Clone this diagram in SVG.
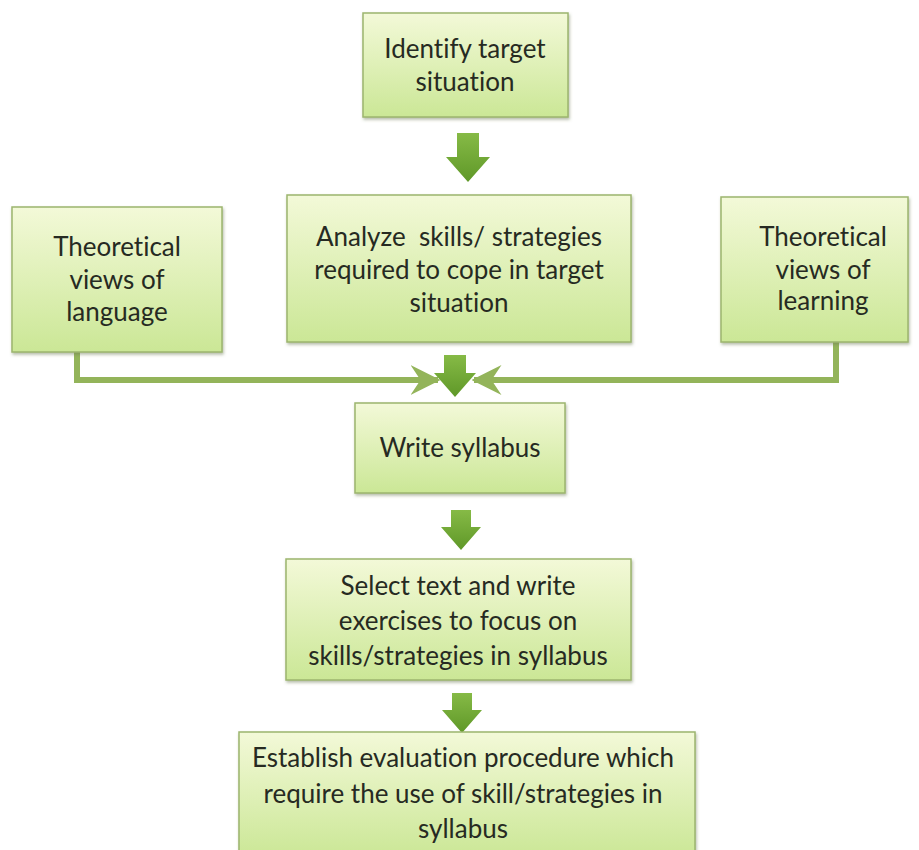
<svg xmlns="http://www.w3.org/2000/svg" width="919" height="850" viewBox="0 0 919 850">
<style>
.box{fill:url(#bg);stroke:#9cb56e;stroke-width:1.5;filter:url(#sh)}
.t{font-family:Lato,"Open Sans","Liberation Sans",sans-serif;font-size:26px;fill:#262a22;text-anchor:middle;font-variant-ligatures:none;white-space:pre}
.con{fill:none;stroke:#93b45a;stroke-width:6}
.blk{fill:url(#ag)}
</style>
<defs>
<linearGradient id="bg" x1="0" y1="0" x2="0" y2="1">
<stop offset="0" stop-color="#f3f9d8"/>
<stop offset="1" stop-color="#cbe796"/>
</linearGradient>
<linearGradient id="ag" x1="0" y1="0" x2="0" y2="1">
<stop offset="0" stop-color="#86ba46"/>
<stop offset="1" stop-color="#5f9828"/>
</linearGradient>
<filter id="sh" x="-5%" y="-5%" width="110%" height="115%">
<feDropShadow dx="1" dy="2" stdDeviation="1.5" flood-color="#6f7f55" flood-opacity="0.5"/>
</filter>
<marker id="ah" viewBox="0 0 12 12" refX="11" refY="6" markerWidth="5" markerHeight="5" orient="auto" markerUnits="strokeWidth">
<path d="M0 0 L12 6 L0 12 L4 6 Z" fill="#93b45a"/>
</marker>
</defs>
<rect width="919" height="850" fill="#ffffff"/>
<g id="connectors">
<path class="con" d="M77 352 V380 H438" marker-end="url(#ah)"/>
<path class="con" d="M836 342 V380 H474" marker-end="url(#ah)"/>
<polygon class="blk" points="457,133 479,133 479,157 490,157 468,182 446,157 457,157"/>
<polygon class="blk" points="444,355 466,355 466,373 476,373 455,397 434,373 444,373"/>
<polygon class="blk" points="451,510 471,510 471,527 481,527 461,550 441,527 451,527"/>
<polygon class="blk" points="452,693 472,693 472,710 482,710 462,733 442,710 452,710"/>
</g>
<g id="n1"><rect class="box" x="363" y="13" width="205" height="104"/>
<text class="t" x="465" y="58">Identify target</text><text class="t" x="465" y="91">situation</text></g>
<g id="n2"><rect class="box" x="287" y="195" width="344" height="147"/>
<text class="t" x="459" y="246">Analyze  skills/ strategies</text><text class="t" x="459" y="279">required to cope in target</text><text class="t" x="459" y="312">situation</text></g>
<g id="n3"><rect class="box" x="12" y="207" width="210" height="145"/>
<text class="t" x="117" y="256">Theoretical</text><text class="t" x="117" y="289">views of</text><text class="t" x="117" y="321">language</text></g>
<g id="n4"><rect class="box" x="721" y="197" width="187" height="145"/>
<text class="t" x="823" y="246">Theoretical</text><text class="t" x="823" y="279">views of</text><text class="t" x="823" y="310">learning</text></g>
<g id="n5"><rect class="box" x="355" y="403" width="210" height="90"/>
<text class="t" x="460" y="457">Write syllabus</text></g>
<g id="n6"><rect class="box" x="286" y="559" width="345" height="121"/>
<text class="t" x="458" y="595">Select text and write</text><text class="t" x="458" y="630">exercises to focus on</text><text class="t" x="458" y="665">skills/strategies in syllabus</text></g>
<g id="n7"><rect class="box" x="239" y="732" width="456" height="125"/>
<text class="t" x="463" y="767">Establish evaluation procedure which</text><text class="t" x="463" y="803">require the use of skill/strategies in</text><text class="t" x="463" y="838">syllabus</text></g>
</svg>
